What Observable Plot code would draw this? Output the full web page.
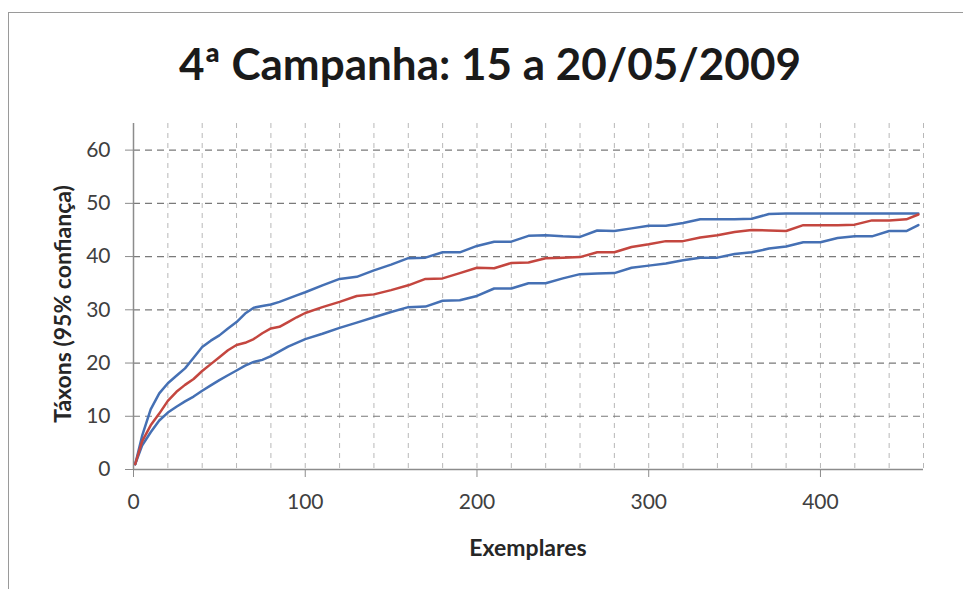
<!DOCTYPE html>
<html>
<head>
<meta charset="utf-8">
<script src="https://cdn.jsdelivr.net/npm/d3@7"></script>
<script src="https://cdn.jsdelivr.net/npm/@observablehq/plot@0.6"></script>
<style>
  html, body { margin: 0; padding: 0; background: #fff; }
  #wrap { position: relative; width: 963px; height: 589px; overflow: hidden; font-family: Lato, "Open Sans", sans-serif; }
  #frame { position: absolute; left: 8px; top: 12px; width: 1000px; height: 700px; border-top: 1.5px solid #9a9a9a; border-left: 1.5px solid #9a9a9a; }
  #title { position: absolute; left: 0; width: 980px; top: 39px; text-align: center; font-size: 44px; font-weight: bold; color: #1a1a1a; line-height: 1.1; }
  #plot { position: absolute; left: 0; top: 110px; }
  #ylab { position: absolute; left: 62px; top: 304px; transform: translate(-50%, -50%) rotate(-90deg); font-size: 23px; font-weight: bold; color: #262626; white-space: nowrap; }
  #xlab { position: absolute; left: 528px; top: 533px; transform: translateX(-50%); font-size: 23px; font-weight: bold; color: #262626; }
</style>
</head>
<body>
<div id="wrap">
  <div id="frame"></div>
  <div id="title">4ª Campanha: 15 a 20/05/2009</div>
  <div id="plot"></div>
  <div id="ylab">Táxons (95% confiança)</div>
  <div id="xlab">Exemplares</div>
</div>
<script>
const exemplares = [1,5,10,15,20,25,30,35,40,45,50,55,60,65,70,75,80,85,90,95,100,110,120,130,140,150,160,170,180,190,200,210,220,230,240,250,260,270,280,290,300,310,320,330,340,350,360,370,380,390,400,410,420,430,440,450,457];
const superior = [1,6.3,11.3,14.3,16.2,17.6,19.0,21.0,23.0,24.2,25.2,26.5,27.7,29.3,30.4,30.7,31.0,31.5,32.1,32.7,33.3,34.6,35.8,36.2,37.4,38.5,39.7,39.8,40.8,40.8,42.0,42.8,42.8,43.9,44.0,43.8,43.7,44.9,44.8,45.3,45.8,45.8,46.3,47.0,47.0,47.0,47.1,48.0,48.1,48.1,48.1,48.1,48.1,48.1,48.1,48.1,48.1];
const media = [1,5.3,8.3,10.5,12.9,14.6,15.9,17.0,18.5,19.8,21.1,22.4,23.4,23.8,24.5,25.6,26.5,26.8,27.7,28.6,29.4,30.5,31.5,32.6,32.9,33.7,34.6,35.8,35.9,36.9,37.9,37.8,38.8,38.9,39.7,39.8,39.9,40.8,40.8,41.8,42.3,42.9,42.9,43.6,44.0,44.6,45.0,44.9,44.8,45.9,45.9,45.9,46.0,46.8,46.8,47.0,47.9];
const inferior = [1,4.5,7.0,9.2,10.7,11.8,12.8,13.7,14.8,15.8,16.8,17.7,18.6,19.5,20.2,20.6,21.3,22.2,23.1,23.8,24.5,25.5,26.6,27.6,28.6,29.6,30.5,30.6,31.7,31.8,32.6,34.0,34.0,35.0,35.0,35.9,36.7,36.8,36.9,37.9,38.3,38.7,39.3,39.8,39.8,40.5,40.8,41.5,41.9,42.7,42.7,43.5,43.8,43.8,44.8,44.8,45.9];
const xTicks = [0,100,200,300,400];
const yTicks = [0,10,20,30,40,50,60];
const xGrid = d3.range(20, 461, 20);
const yGrid = [10,20,30,40,50,60];

const rows = (ys) => exemplares.map((x, i) => ({x, y: ys[i]}));
const blue = "#4570b4", red = "#c4463f";

const chart = Plot.plot({
  width: 963,
  height: 479,
  marginTop: 13,
  marginBottom: 120,
  marginLeft: 133,
  marginRight: 40,
  style: {fontFamily: "Lato, 'Open Sans', sans-serif", fontSize: "21px", color: "#404040", background: "transparent"},
  x: {domain: [0, 460]},
  y: {domain: [0, 65]},
  marks: [
    Plot.gridX(xGrid, {stroke: "#b8b8b8", strokeOpacity: 1, strokeDasharray: "5,5", strokeWidth: 1}),
    Plot.gridY(yGrid, {stroke: "#7a7a7a", strokeOpacity: 1, strokeDasharray: "7,5", strokeWidth: 1.2}),
    Plot.ruleY([0], {x1: 0, x2: 460, stroke: "#8c8c8c", strokeWidth: 1.5}),
    Plot.ruleX([0], {y1: 0, y2: 65, stroke: "#8c8c8c", strokeWidth: 1.5}),
    Plot.axisX(xTicks, {tickSize: 8, tickPadding: 17, stroke: "#8c8c8c", label: null, fill: "#404040"}),
    Plot.axisY(yTicks, {tickSize: 8, tickPadding: 15, stroke: "#8c8c8c", label: null, fill: "#404040"}),
    Plot.line(rows(superior), {x: "x", y: "y", stroke: blue, strokeWidth: 2.5}),
    Plot.line(rows(inferior), {x: "x", y: "y", stroke: blue, strokeWidth: 2.5}),
    Plot.line(rows(media), {x: "x", y: "y", stroke: red, strokeWidth: 2.5})
  ]
});
document.getElementById("plot").appendChild(chart);
</script>
</body>
</html>
